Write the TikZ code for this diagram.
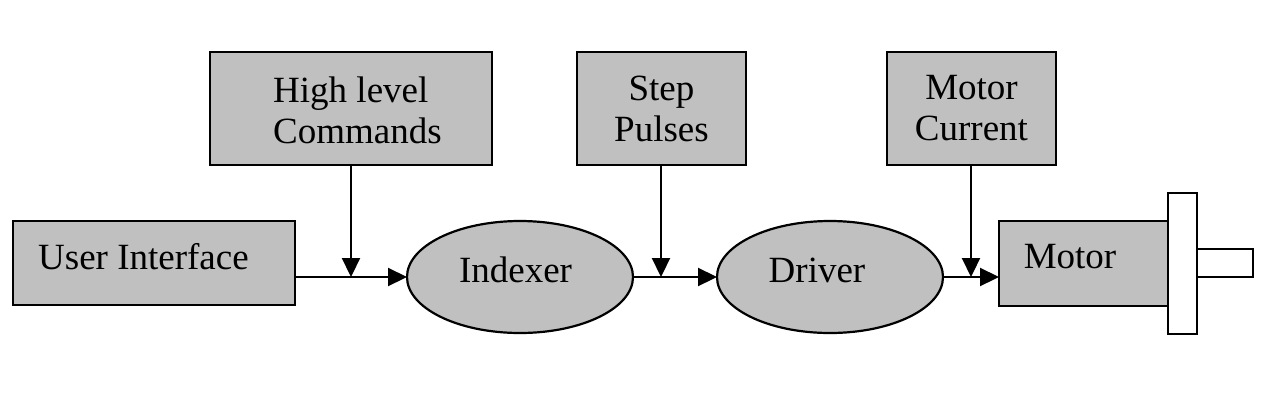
\documentclass[tikz,border=0pt]{standalone}
\usepackage{fontspec}
\setmainfont{Liberation Serif}
\usetikzlibrary{shapes.geometric,arrows.meta}
\definecolor{boxgray}{RGB}{192,192,192}
\newcommand{\bigfont}{\fontsize{37pt}{41pt}\selectfont}
\begin{document}
\begin{tikzpicture}[x=1pt,y=-1pt,
  box/.style={draw, line width=2.2pt, fill=boxgray, inner sep=0pt, outer sep=0pt, font=\bigfont, align=center},
  oval/.style={ellipse, draw, line width=2.2pt, fill=boxgray, inner sep=0pt, outer sep=0pt, minimum width=226pt, minimum height=112pt},
  wbox/.style={draw, line width=2.2pt, fill=white, inner sep=0pt, outer sep=0pt},
  lbl/.style={font=\bigfont, inner sep=0pt, anchor=base},
  arr/.style={-{Triangle[length=19pt,width=18pt]}, line width=2.2pt}]
\useasboundingbox (0,0) rectangle (1269,413);
% boxes
\node[box, minimum width=282pt, minimum height=84pt] (ui) at (154,263) {};
\node[lbl, anchor=base west] (uitxt) at (38,269) {User Interface};
\node[box, minimum width=282pt, minimum height=113pt] (hlc) at (351,108.5) {};
\node[lbl, align=left, anchor=center] (hlctxt) at (357.5,110) {High level\\Commands};
\node[box, minimum width=169pt, minimum height=113pt] (sp) at (661.5,108.5) {Step\\Pulses};
\node[box, minimum width=169pt, minimum height=113pt] (mc) at (971.5,108.5) {Motor\\Current};
\node[oval] (idx) at (520,277) {};
\node[lbl] (idxtxt) at (515.5,282) {Indexer};
\node[oval] (drv) at (830,277) {};
\node[lbl] (drvtxt) at (817,282) {Driver};
\node[box, minimum width=169pt, minimum height=85pt] (mot) at (1083.5,263.5) {};
\node[lbl] (mottxt) at (1070,268) {Motor};
\node[wbox, minimum width=29pt, minimum height=141pt] (flange) at (1182.5,263.5) {};
\node[wbox, minimum width=56pt, minimum height=28pt, anchor=west] (shaft) at (flange.east |- 0,263) {};
% junctions
\coordinate (j1) at (351,277);
\coordinate (j2) at (661,277);
\coordinate (j3) at (971,277);
% connectors
\draw[arr] (ui.east |- idx.west) -- (idx.west);
\draw[arr] (idx.east) -- (drv.west);
\draw[arr] (drv.east) -- (mot.west |- drv.east);
\draw[arr] (hlc.south -| j1) -- (j1);
\draw[arr] (sp.south -| j2) -- (j2);
\draw[arr] (mc.south -| j3) -- (j3);
\end{tikzpicture}
\end{document}
